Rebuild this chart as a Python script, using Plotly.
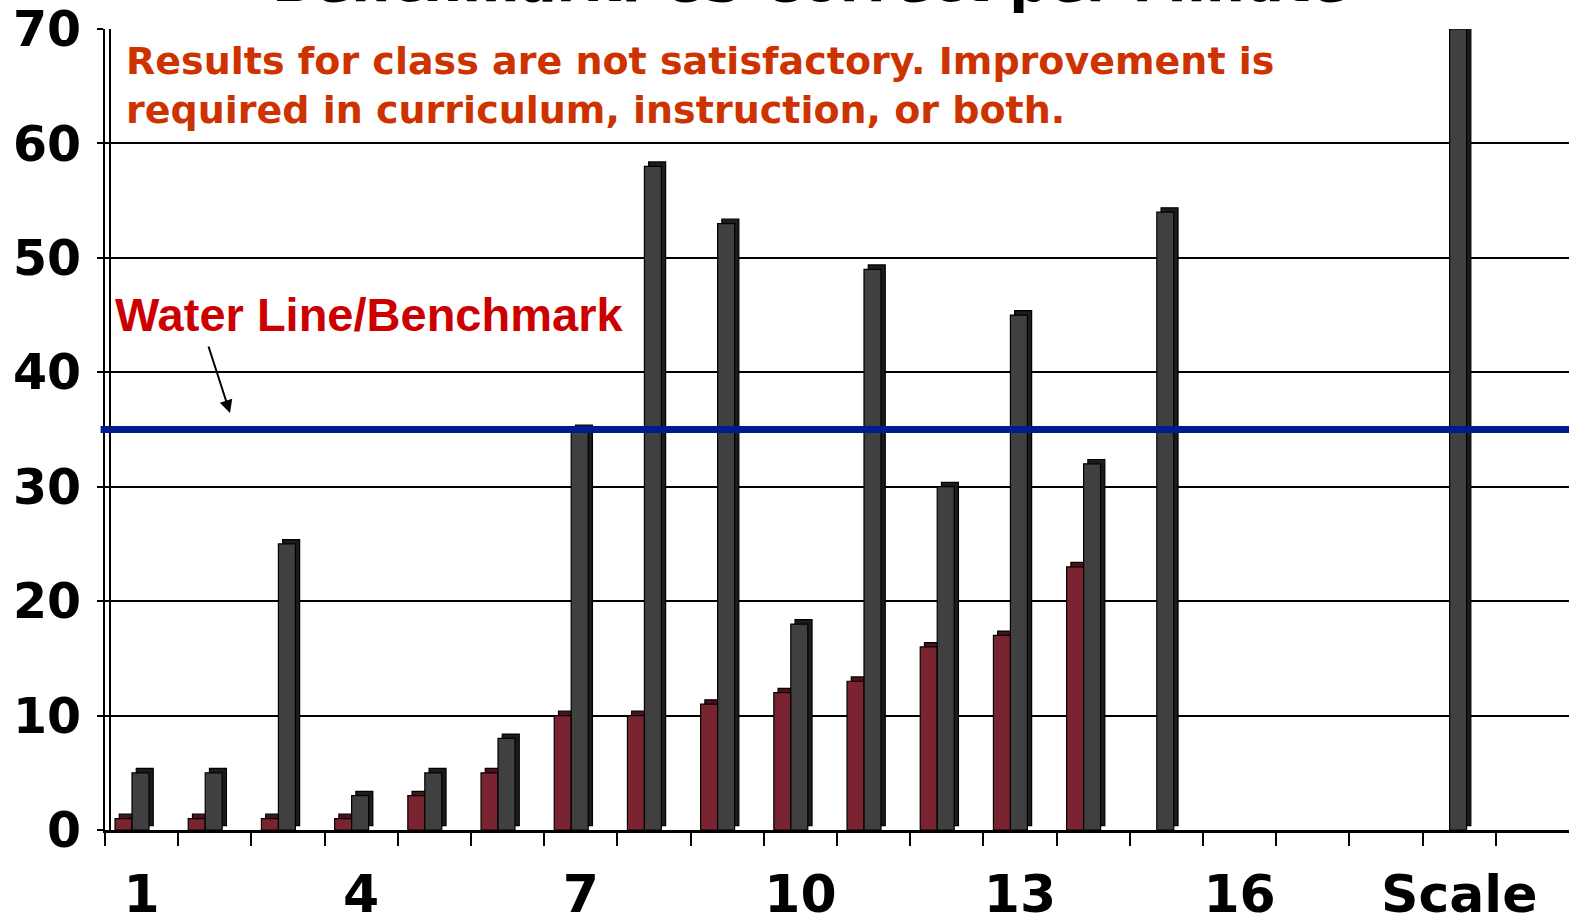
import plotly.graph_objects as go

# ---------------- data ----------------
categories = ["1", "2", "3", "4", "5", "6", "7", "8", "9", "10",
              "11", "12", "13", "14", "15", "16", "17", "18", "Scale"]
tick_labels = ["1", "", "", "4", "", "", "7", "", "", "10",
               "", "", "13", "", "", "16", "", "", "Scale"]
fall_values = [1, 1, 1, 1, 3, 5, 10, 10, 11, 12, 13, 16, 17, 23, None, None, None, None, None]
winter_values = [5, 5, 25, 3, 5, 8, 35, 58, 53, 18, 49, 30, 45, 32, 54, None, None, None, 70]
y_ticks = [0, 10, 20, 30, 40, 50, 60, 70]
benchmark = 35

title_text = "Benchmark: CS Correct per Minute"
note_line1 = "Results for class are not satisfactory. Improvement is"
note_line2 = "required in curriculum, instruction, or both."
water_text = "Water Line/Benchmark"

# ---------------- styling ----------------
W = 0.232          # bar width (category units)
DX = 0.058         # 3D depth, horizontal (category units)
DY = 0.38          # 3D depth, vertical (value units)
series = [
    (fall_values, -0.363, "#7a2331", "#4a121b"),
    (winter_values, -0.131, "#404040", "#1c1c1c"),
]

fig = go.Figure()
for vals, off, front, side in series:
    fig.add_trace(go.Bar(x=categories, y=vals, base=DY, offset=off + DX, width=W,
                         marker=dict(color=side, line=dict(color="black", width=1.2)),
                         hoverinfo="skip", showlegend=False))
    fig.add_trace(go.Bar(x=categories, y=vals, offset=off, width=W,
                         marker=dict(color=front, line=dict(color="black", width=1.2)),
                         showlegend=False))

fig.update_layout(
    width=1572, height=919,
    margin=dict(l=105, r=3, t=29, b=89),
    paper_bgcolor="white", plot_bgcolor="white",
    barmode="overlay",
    xaxis=dict(type="category", categoryorder="array", categoryarray=categories,
               range=[-0.5, 19.5], tickmode="array", tickvals=categories, ticktext=tick_labels,
               tickson="boundaries", ticks="outside", ticklen=13, tickwidth=2, tickcolor="black",
               showline=True, linecolor="black", linewidth=3, showgrid=False,
               ticklabelstandoff=17, tickangle=0, automargin=False, ticklabeloverflow="allow",
               tickfont=dict(family="DejaVu Sans", size=52, color="black", weight="bold")),
    yaxis=dict(range=[0, 70], tickmode="array", tickvals=y_ticks,
               showgrid=True, gridcolor="black", gridwidth=1.5, zeroline=False,
               ticks="outside", ticklen=6, tickwidth=2, tickcolor="black",
               showline=True, linecolor="black", linewidth=2,
               ticklabelstandoff=6, automargin=False, ticklabeloverflow="allow",
               tickfont=dict(family="DejaVu Sans", size=49, color="black", weight="bold")),
)

# inner wall line
fig.add_shape(type="line", xref="paper", xsizemode="pixel", xanchor=0, x0=5, x1=5,
              yref="paper", y0=0, y1=1, line=dict(color="black", width=2), layer="above")
# benchmark water line
fig.add_shape(type="line", xref="paper", x0=-0.003, x1=1, yref="y", y0=benchmark, y1=benchmark,
              line=dict(color="#021a8c", width=7), layer="above")

fig.add_annotation(text=note_line1, xref="paper", yref="paper", x=0.013, y=0.96,
                   xanchor="left", yanchor="middle", showarrow=False,
                   font=dict(family="DejaVu Sans", size=38, color="#cc3300", weight="bold"))
fig.add_annotation(text=note_line2, xref="paper", yref="paper", x=0.013, y=0.899,
                   xanchor="left", yanchor="middle", showarrow=False,
                   font=dict(family="DejaVu Sans", size=38, color="#cc3300", weight="bold"))
fig.add_annotation(text=water_text, xref="paper", yref="paper", x=0.0055, y=0.643,
                   xanchor="left", yanchor="middle", showarrow=False,
                   font=dict(family="Liberation Sans", size=47, color="#cc0000", weight="bold"))
fig.add_annotation(text="", xref="paper", yref="paper", x=0.0854, y=0.5206,
                   showarrow=True, ax=-22, ay=-68, arrowhead=2, arrowsize=1.3,
                   arrowwidth=2, arrowcolor="black")
fig.add_annotation(text=title_text, xref="paper", yref="paper", x=0.4816, y=1,
                   xanchor="center", yanchor="bottom", yshift=13, showarrow=False,
                   font=dict(family="DejaVu Sans", size=55, color="black", weight="bold"))

fig.write_html("out.html", config={"displayModeBar": False},
               post_script="document.body.style.margin='0';")
